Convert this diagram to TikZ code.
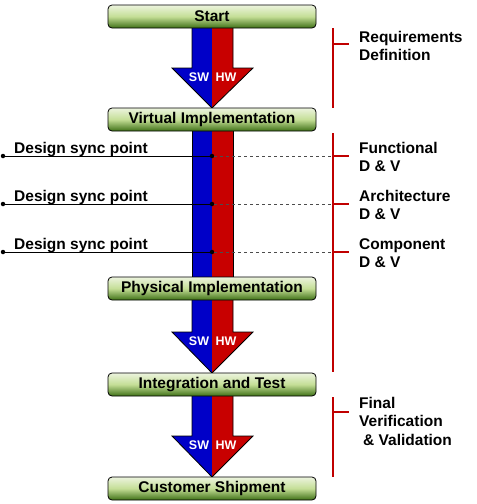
\documentclass[tikz,border=0pt]{standalone}
\usepackage{fontspec}
\setmainfont{Liberation Sans}
\definecolor{swblue}{RGB}{0,0,200}
\definecolor{hwred}{RGB}{200,0,0}
\definecolor{brred}{RGB}{192,0,0}
\definecolor{boxtop}{RGB}{236,244,222}
\definecolor{boxmid}{RGB}{196,222,150}
\definecolor{boxbot}{RGB}{62,112,22}
\newcommand\hwswarrow[3]{%
  \fill[swblue] (192,#1) -- (212,#1) -- (212,#3) -- (172,#2) -- (192,#2) -- cycle;
  \fill[hwred] (212,#1) -- (233,#1) -- (233,#2) -- (253,#2) -- (212,#3) -- cycle;
  \draw[line width=0.8pt,line join=miter] (192,#1) -- (192,#2) -- (172,#2) -- (212,#3) -- (253,#2) -- (233,#2) -- (233,#1);
}
\begin{document}
\begin{tikzpicture}[x=1pt,y=-1pt,
  box/.style={draw=black, line width=0.8pt, rounded corners=4pt,
    minimum width=208pt, minimum height=23pt, inner sep=0pt,
    top color=boxtop, bottom color=boxbot, middle color=boxmid,
    font=\fontsize{15.5}{18}\selectfont\bfseries},
  lbl/.style={anchor=base west, inner sep=0pt, font=\fontsize{15.5}{18}\selectfont\bfseries},
  hwsw/.style={anchor=base, inner sep=0pt, text=white, font=\fontsize{12.5}{14}\selectfont\bfseries},
  bracket/.style={draw=brred, line width=2.6pt},
  dot/.style={circle, fill=black, inner sep=0pt, minimum size=4.5pt},
  syncline/.style={draw=black, line width=0.8pt},
  syncdash/.style={draw=black!70, line width=0.7pt, dash pattern=on 3pt off 3pt}]
\useasboundingbox (0,0) rectangle (477,504);
% arrows
\hwswarrow{28}{68}{108}
\hwswarrow{300}{332}{373}
\hwswarrow{396}{436}{477}
% long shaft
\fill[swblue] (192,131) rectangle (212,277);
\fill[hwred] (212,131) rectangle (233,277);
\draw[line width=0.8pt] (192,131) -- (192,277) (233,131) -- (233,277);
% SW/HW labels
\node[hwsw] (sw1) at (199,81) {SW};
\node[hwsw] (hw1) at (226,81) {HW};
\node[hwsw] (sw2) at (199,345) {SW};
\node[hwsw] (hw2) at (226,345) {HW};
\node[hwsw] (sw3) at (199,449) {SW};
\node[hwsw] (hw3) at (226,449) {HW};
% boxes
\node[box] (start) at (212,16.5) {Start};
\node[box] (vi) at (212,119.5) {Virtual Implementation};
\node[box] (pi) at (212,288.5) {Physical Implementation};
\node[box] (it) at (212,384.5) {Integration and Test};
\node[box] (cs) at (212,488.5) {Customer Shipment};
% sync points
\foreach \y/\n in {156/a,204/b,252/c}{
  \node[dot] (l\n) at (3,\y) {};
  \node[dot] (m\n) at (212,\y) {};
  \coordinate (r\n) at (333,\y);
  \coordinate (t\n) at (349,\y);
  \draw[syncline] (l\n) -- (m\n);
  \draw[syncdash] (m\n) -- (r\n);
  \draw[bracket] (r\n) -- (t\n);
  \node[lbl] at (14,\y-3) {Design sync point};
}
% brackets
\coordinate (rq1) at (333,28); \coordinate (rq2) at (333,108);
\draw[bracket] (rq1) -- (rq2);
\coordinate (rqt1) at (333,44); \coordinate (rqt2) at (349,44);
\draw[bracket] (rqt1) -- (rqt2);
\coordinate (dv1) at (333,133); \coordinate (dv2) at (333,372);
\draw[bracket] (dv1) -- (dv2);
\coordinate (fv1) at (333,397); \coordinate (fv2) at (333,477);
\draw[bracket] (fv1) -- (fv2);
\coordinate (fvt1) at (333,412); \coordinate (fvt2) at (349,412);
\draw[bracket] (fvt1) -- (fvt2);
% right labels
\node[lbl] (req1) at (359,42) {Requirements};
\node[lbl] (req2) at (359,60.5) {Definition};
\node[lbl] (fun1) at (359,153) {Functional};
\node[lbl] (fun2) at (359,171.5) {D \& V};
\node[lbl] (arc1) at (359,201) {Architecture};
\node[lbl] (arc2) at (359,219.5) {D \& V};
\node[lbl] (com1) at (359,249) {Component};
\node[lbl] (com2) at (359,267.5) {D \& V};
\node[lbl] (fin1) at (359,408) {Final};
\node[lbl] (fin2) at (359,426.5) {Verification};
\node[lbl] (fin3) at (363,445) {\& Validation};
\end{tikzpicture}
\end{document}
